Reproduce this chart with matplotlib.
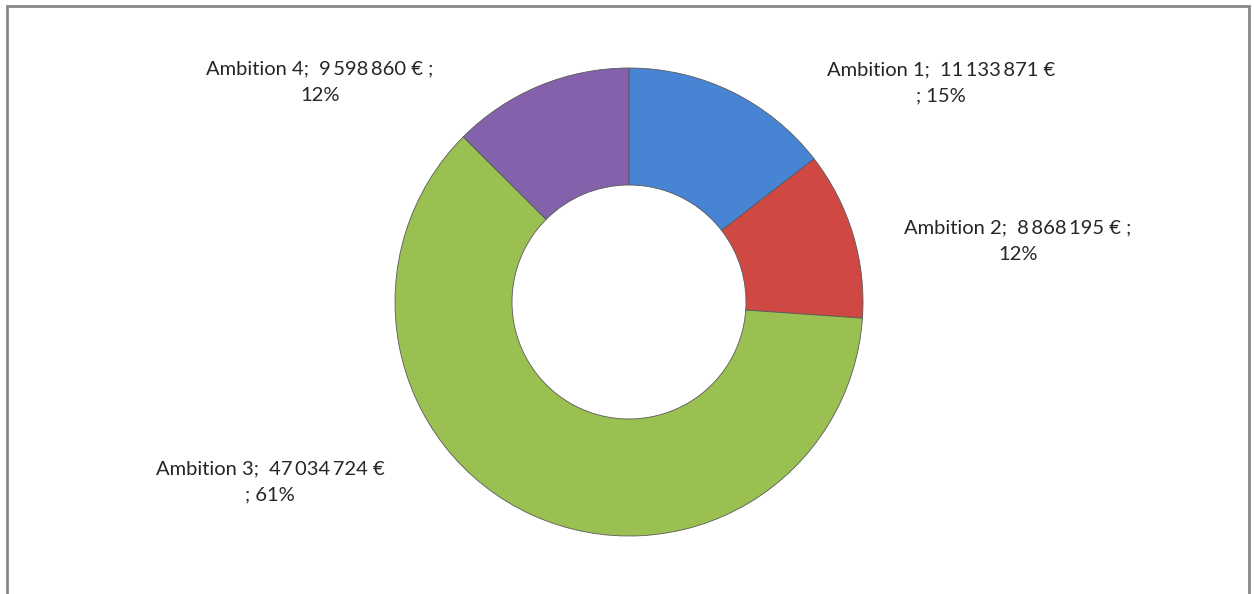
import matplotlib.pyplot as plt
from matplotlib.patches import Rectangle

# Données
categories = ['Ambition 1', 'Ambition 2', 'Ambition 3', 'Ambition 4']
montants = [11133871, 8868195, 47034724, 9598860]
labels = ['Ambition 1;  11\u2009133\u2009871 €\n; 15%',
          'Ambition 2;  8\u2009868\u2009195 € ;\n12%',
          'Ambition 3;  47\u2009034\u2009724 €\n; 61%',
          'Ambition 4;  9\u2009598\u2009860 € ;\n12%']
couleurs = ['#4784d3', '#d04843', '#99c050', '#8462ab']

# position des étiquettes (pixels)
label_pos = [(941, 83), (1018, 241), (270, 482), (320, 82)]

W, H = 1254, 594
cx, cy, R = 629, 302, 234

plt.rcParams['font.family'] = ['Lato', 'DejaVu Sans']
fig = plt.figure(figsize=(W / 100, H / 100), dpi=100)
ax = fig.add_axes([0, 0, 1, 1])

ax.pie(montants, colors=couleurs, startangle=90, counterclock=False,
       radius=1, wedgeprops=dict(width=0.5, edgecolor='#5a5a5a', linewidth=0.6))

ax.set_xlim(-cx / R, (W - cx) / R)
ax.set_ylim((cy - H) / R, cy / R)
ax.set_aspect('equal')
ax.axis('off')

for lab, (px, py) in zip(labels, label_pos):
    ax.text((px - cx) / R, (cy - py) / R, lab, ha='center', va='center',
            fontsize=14.5, color='#262626', linespacing=1.65)

# cadre
fig.patches.append(Rectangle((7 / W, -0.05), (1249 - 7) / W, 1 - 6 / H + 0.05,
                             transform=fig.transFigure, fill=False,
                             edgecolor='#878787', linewidth=2))

fig.savefig('out.png', dpi=100)
